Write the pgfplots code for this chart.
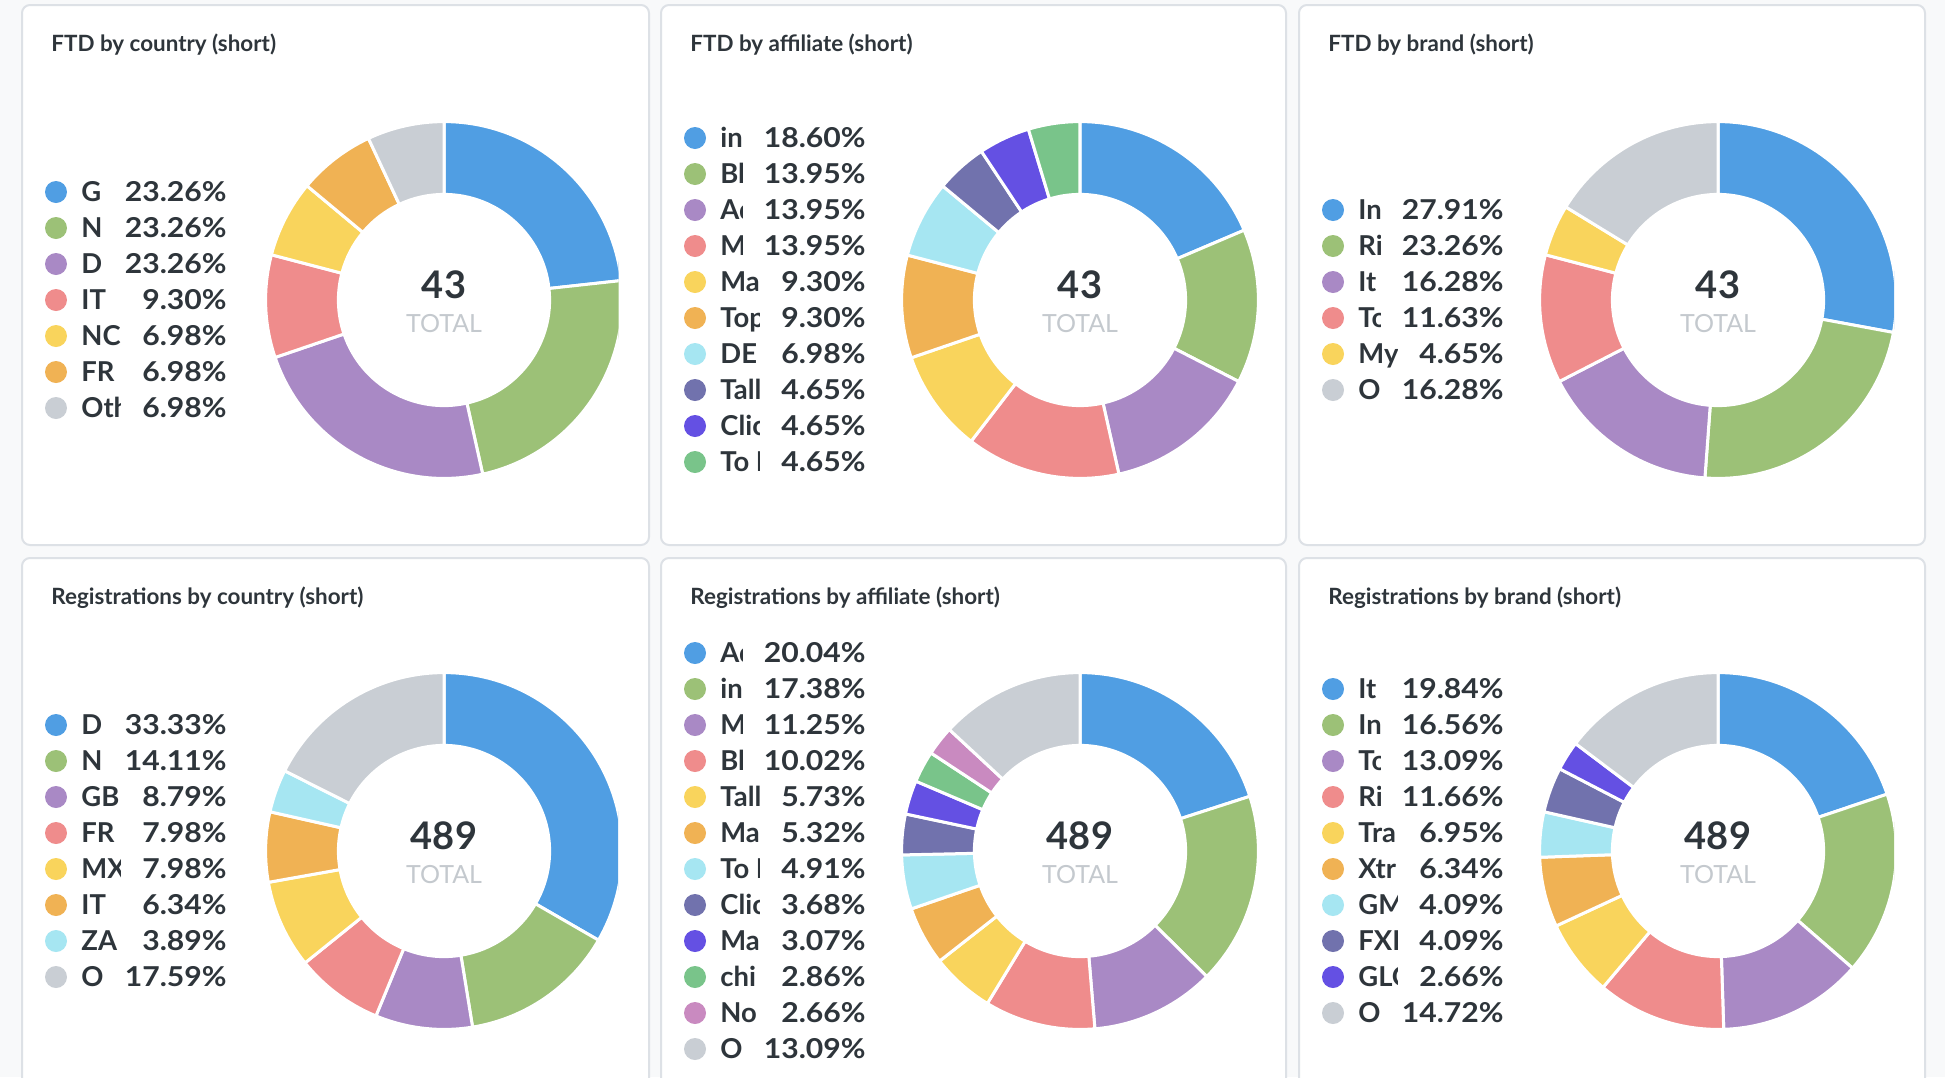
\documentclass[border=0pt]{standalone}
\usepackage{fontspec}
\setmainfont{Lato}[Numbers={Lining,Monospaced}]
\newfontfamily\pctfamily{Lato}[FakeStretch=1.1, Numbers={Lining,Monospaced}]
\usepackage{pgfplots}
\usepackage{pgfplotstable}
\pgfplotsset{compat=1.18}

\definecolor{cBlue}{HTML}{509EE3}
\definecolor{cGreen}{HTML}{9CC177}
\definecolor{cPurple}{HTML}{A989C5}
\definecolor{cRed}{HTML}{EF8C8C}
\definecolor{cYellow}{HTML}{F9D45C}
\definecolor{cOrange}{HTML}{F0B254}
\definecolor{cCyan}{HTML}{A6E6F2}
\definecolor{cIndigo}{HTML}{7172AD}
\definecolor{cViolet}{HTML}{6450E3}
\definecolor{cMint}{HTML}{79C48A}
\definecolor{cPink}{HTML}{C98AC0}
\definecolor{cGray}{HTML}{C9CED4}
\definecolor{ink}{HTML}{2E353B}
\definecolor{muted}{HTML}{C4C9CE}
\definecolor{page}{HTML}{F8F9FA}
\definecolor{edge}{HTML}{DDE1E6}

% FTD by country
\pgfplotstableread{
label pct col
G 23.26 cBlue
N 23.26 cGreen
D 23.26 cPurple
IT 9.30 cRed
NC 6.98 cYellow
FR 6.98 cOrange
Oth 6.98 cGray
}\tA
% FTD by affiliate
\pgfplotstableread{
label pct col
in 18.60 cBlue
Bl 13.95 cGreen
Ad 13.95 cPurple
M 13.95 cRed
Ma 9.30 cYellow
Top 9.30 cOrange
DE 6.98 cCyan
Tall 4.65 cIndigo
Click 4.65 cViolet
{To B} 4.65 cMint
}\tB
% FTD by brand
\pgfplotstableread{
label pct col
In 27.91 cBlue
Ri 23.26 cGreen
It 16.28 cPurple
To 11.63 cRed
My 4.65 cYellow
O 16.28 cGray
}\tC
% Registrations by country
\pgfplotstableread{
label pct col
D 33.33 cBlue
N 14.11 cGreen
GB 8.79 cPurple
FR 7.98 cRed
MX 7.98 cYellow
IT 6.34 cOrange
ZA 3.89 cCyan
O 17.59 cGray
}\tD
% Registrations by affiliate
\pgfplotstableread{
label pct col
Ad 20.04 cBlue
in 17.38 cGreen
M 11.25 cPurple
Bl 10.02 cRed
Tall 5.73 cYellow
Ma 5.32 cOrange
{To B} 4.91 cCyan
Click 3.68 cIndigo
Ma 3.07 cViolet
chi 2.86 cMint
No 2.66 cPink
O 13.09 cGray
}\tE
% Registrations by brand
\pgfplotstableread{
label pct col
It 19.84 cBlue
In 16.56 cGreen
To 13.09 cPurple
Ri 11.66 cRed
Tra 6.95 cYellow
Xtr 6.34 cOrange
GM 4.09 cCyan
FXP 4.09 cIndigo
GLO 2.66 cViolet
O 14.72 cGray
}\tF

\newcommand\legfont{\fontsize{13.7pt}{16pt}\selectfont\bfseries}
\newcommand\pctfont{\fontsize{13.7pt}{16pt}\pctfamily\bfseries}
\newcommand\titlefont{\fontsize{11.2pt}{14pt}\selectfont\bfseries}

% ring slices, clockwise from 12 o'clock
\newcommand\slices[1]{%
  \pgfplotstablegetrowsof{#1}%
  \pgfmathtruncatemacro\nlast{\pgfplotsretval-1}%
  \gdef\cum{0}%
  \foreach \i in {0,...,\nlast}{%
    \pgfplotstablegetelem{\i}{pct}\of{#1}\let\val\pgfplotsretval
    \pgfplotstablegetelem{\i}{col}\of{#1}\let\slc\pgfplotsretval
    \pgfmathsetmacro\aA{90-3.6*\cum}%
    \pgfmathsetmacro\aB{90-3.6*(\cum+\val)}%
    \filldraw[fill=\slc, draw=white, line width=1.5pt]
      (axis cs:{89.2*cos(\aA)},{89.2*sin(\aA)})
      arc[start angle=\aA, end angle=\aB, radius=89.2pt]
      -- (axis cs:{52.8*cos(\aB)},{52.8*sin(\aB)})
      arc[start angle=\aB, end angle=\aA, radius=52.8pt] -- cycle;
    \pgfmathsetmacro\nc{\cum+\val}\xdef\cum{\nc}%
  }%
}

% #1 table, #2 cx px, #3 cy px, #4 right clip
\newcommand\donut[4]{%
  \begin{axis}[at={({#2*0.5pt},{-#3*0.5pt})}, anchor=origin,
    x=1pt, y=1pt, xmin=-92, xmax=#4, ymin=-92, ymax=92,
    hide axis, clip=true]
    \pgfplotsextra{\slices{#1}}
  \end{axis}}

% #1 table, #2 panel left px, #3 cy px
\newcommand\donutlegend[3]{%
  \pgfplotstablegetrowsof{#1}%
  \pgfmathtruncatemacro\nlast{\pgfplotsretval-1}%
  \foreach \i in {0,...,\nlast}{%
    \pgfplotstablegetelem{\i}{label}\of{#1}\let\lab\pgfplotsretval
    \pgfplotstablegetelem{\i}{pct}\of{#1}\let\val\pgfplotsretval
    \pgfplotstablegetelem{\i}{col}\of{#1}\let\slc\pgfplotsretval
    \pgfmathsetmacro\yy{#3+36*(\i-\nlast/2)}%
    \pgfmathsetmacro\clw{\val>=10 ? 22 : 39}%
    \fill[\slc] (#2+34,\yy) circle[radius=5.5pt];
    \begin{scope}
      \clip (#2+59,\yy-20) rectangle (#2+59+\clw,\yy+20);
      \node[anchor=base west, inner sep=0, font=\legfont, text=ink] at (#2+59,\yy+9.8) {\lab};
    \end{scope}
    \node[anchor=base east, inner sep=0, font=\pctfont, text=ink] at (#2+205,\yy+9.8) {\val\%};
  }%
}

% #1 left, #2 right, #3 top, #4 bottom, #5 title, #6 table, #7 cx, #8 cy, #9 total
\newcommand\panel[9]{%
  \filldraw[fill=white, draw=edge, line width=1pt, rounded corners=4pt] (#1,#3) rectangle (#2,#4);
  \node[anchor=base west, inner sep=0, font=\titlefont, text=ink] at (#1+29,#3+46) {#5};
  \node[anchor=base, inner sep=0, font=\fontsize{19pt}{22pt}\selectfont\bfseries, text=ink] at (#7,#8-1.3) {#9};
  \node[anchor=base, inner sep=0, font=\fontsize{12.5pt}{15pt}\selectfont, text=muted] at (#7,#8+32) {TOTAL};
  \donutlegend{#6}{#1}{#8}
}

\begin{document}
\begin{tikzpicture}[x=0.5pt, y=-0.5pt]
  \useasboundingbox (0,0) rectangle (1945,1077);
  \clip (0,0) rectangle (1945,1077);
  \fill[page] (0,0) rectangle (1945,1077);

  \panel{22}{649}{5}{545}{FTD by country (short)}{\tA}{444}{300}{43}
  \donut{\tA}{444}{300}{87.3}
  \panel{661}{1286}{5}{545}{FTD by affiliate (short)}{\tB}{1080}{300}{43}
  \donut{\tB}{1080}{300}{92}
  \panel{1299}{1925}{5}{545}{FTD by brand (short)}{\tC}{1718}{300}{43}
  \donut{\tC}{1718}{300}{88}

  \panel{22}{649}{558}{1110}{Registrations by country (short)}{\tD}{444}{851}{489}
  \donut{\tD}{444}{851}{87}
  \panel{661}{1286}{558}{1110}{Registrations by affiliate (short)}{\tE}{1080}{851}{489}
  \donut{\tE}{1080}{851}{92}
  \panel{1299}{1925}{558}{1110}{Registrations by brand (short)}{\tF}{1718}{851}{489}
  \donut{\tF}{1718}{851}{88}
\end{tikzpicture}
\end{document}
